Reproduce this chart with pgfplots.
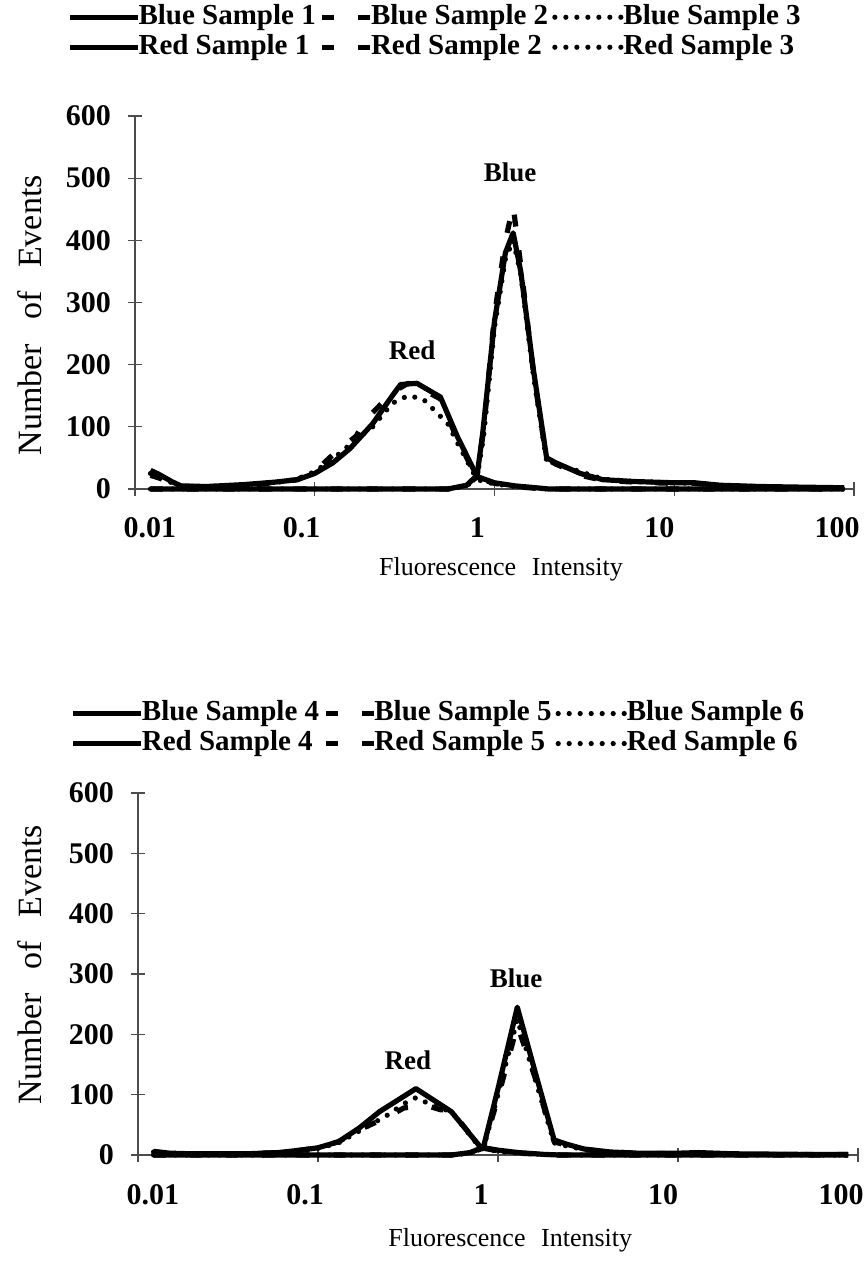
\documentclass[border=0pt]{standalone}
\usepackage{fontspec}
\setmainfont{Liberation Serif}
\usepackage{pgfplots}
\pgfplotsset{compat=1.18}

\tikzset{
  solidl/.style={solid},
  dashl/.style={dash pattern=on 6pt off 12pt},
  dotl/.style={dash pattern=on 0pt off 5.5pt, line cap=round},
  peak/.style={font=\fontsize{13.5}{13.5}\selectfont\bfseries},
  leg34/.style={}, leg24/.style={},
}
\pgfplotsset{
  leg34/.style={legend image code/.code={\draw[##1] (0pt,0pt) -- (34pt,0pt);}},
  leg24/.style={legend image code/.code={\draw[##1] (0pt,0pt) -- (24pt,0pt);}},
  fluo/.style={
    scale only axis,
    xmin=0.01, xmax=100, ymin=0, ymax=600,
    xtick={0.01,0.1,1,10,100},
    xticklabels={{\kern15pt 0.01},{0.1\kern13pt},{1\kern17pt},{10\kern15pt},{100\kern17pt}},
    xminorticks=false,
    ytick={0,100,...,600},
    axis lines*=left,
    axis line style={black!70, line width=0.6pt},
    tick style={black!70, line width=0.6pt},
    tick align=center, major tick length=7pt,
    tick label style={font=\fontsize{15}{15}\selectfont\bfseries},
    xticklabel style={anchor=base, yshift=-21pt},
    yticklabel style={xshift=-5pt},
    /pgf/number format/assume math mode=true,
    xlabel style={font=\fontsize{13}{13}\selectfont},
    ylabel style={font=\fontsize{17}{17}\selectfont},
    xlabel={Fluorescence\hspace{0.6em}Intensity},
    ylabel={Number\hspace{0.7em}of\hspace{0.7em}Events},
    clip=false,
    legend columns=3,
    legend cell align=left,
    legend style={draw=none, fill=none, inner sep=0pt,
      font=\fontsize{14.5}{15}\selectfont\bfseries,
      nodes={inner sep=1pt, text height=10pt, text depth=3pt}, row sep=0pt,
      /tikz/every odd column/.append style={column sep=-2pt},
      /tikz/every even column/.append style={column sep=1pt}},
    every axis plot/.append style={black, line width=2.6pt, line join=round},
  },
}

\begin{document}
\begin{tikzpicture}
\useasboundingbox (0,0) rectangle (431.5pt,636.5pt);

% ---- top panel: samples 1-3
\begin{semilogxaxis}[fluo,
  at={(67.5pt,392pt)}, anchor=south west,
  width=359.5pt, height=186.5pt,
  xlabel style={at={(axis description cs:0.509,-0.214)}, anchor=center},
  ylabel style={at={(axis description cs:-0.146,0.466)}, anchor=center},
  legend style={at={(-0.0946,1.306)}, anchor=north west},
]
\addplot[solidl, leg34] coordinates {
  (0.0122,0) (0.05,0) (0.2,0) (0.55,0) (0.7,6) (0.8,22) (0.86,90) (1.0,270)
  (1.15,380) (1.27,412) (1.4,350) (1.65,190) (1.95,50) (2.2,42) (3,25) (4,15)
  (6,12) (10,10) (13,10) (18,6) (30,4) (50,3) (88,2)};
\addlegendentry{Blue Sample 1}
\addplot[dashl, leg24] coordinates {
  (0.0122,0) (0.55,0) (0.7,5) (0.8,20) (0.87,95) (1.0,280) (1.15,400) (1.27,455)
  (1.4,360) (1.65,185) (1.95,48) (2.2,40) (3,22) (4,14) (6,11) (10,9) (13,9)
  (18,5) (30,3) (50,2) (88,2)};
\addlegendentry{Blue Sample 2}
\addplot[dotl, leg34] coordinates {
  (0.0122,0) (0.55,0) (0.7,5) (0.8,18) (0.87,85) (1.0,260) (1.15,370) (1.27,400)
  (1.4,345) (1.65,180) (1.95,45) (2.3,38) (3,28) (4,16) (6,12) (10,10) (13,9)
  (18,6) (30,4) (50,2) (88,2)};
\addlegendentry{Blue Sample 3}
\addplot[solidl, leg34] coordinates {
  (0.0122,30) (0.0135,24) (0.016,12) (0.018,5) (0.025,4) (0.04,7) (0.06,11)
  (0.08,15) (0.1,25) (0.126,42) (0.157,65) (0.21,105) (0.27,150) (0.30,168)
  (0.37,170) (0.50,148) (0.62,85) (0.8,20) (1.0,10) (1.3,5) (1.7,2) (2.0,0)
  (5,0) (88,0)};
\addlegendentry{Red Sample 1}
\addplot[dashl, leg24] coordinates {
  (0.0122,22) (0.0135,18) (0.016,10) (0.018,4) (0.025,3) (0.04,6) (0.06,10)
  (0.08,15) (0.1,28) (0.126,55) (0.17,85) (0.19,110) (0.27,155) (0.33,170)
  (0.37,165) (0.50,145) (0.62,80) (0.8,18) (1.0,9) (1.3,4) (1.7,1) (2.0,0)
  (88,0)};
\addlegendentry{Red Sample 2}
\addplot[dotl, leg34] coordinates {
  (0.0122,25) (0.0135,20) (0.016,10) (0.018,5) (0.025,4) (0.04,6) (0.06,10)
  (0.08,16) (0.1,28) (0.126,48) (0.17,80) (0.21,100) (0.27,138) (0.33,150)
  (0.40,145) (0.48,122) (0.55,105) (0.62,75) (0.8,15) (1.0,8) (1.3,4) (1.7,1)
  (2.0,0) (88,0)};
\addlegendentry{Red Sample 3}
\node[peak] at (axis cs:1.22,510) {Blue};
\node[peak] at (axis cs:0.348,223) {Red};
\end{semilogxaxis}

% ---- bottom panel: samples 4-6
\begin{semilogxaxis}[fluo,
  at={(69pt,59pt)}, anchor=south west,
  width=360pt, height=181pt,
  xlabel style={at={(axis description cs:0.517,-0.235)}, anchor=center},
  ylabel style={at={(axis description cs:-0.15,0.525)}, anchor=center},
  legend style={at={(-0.094,1.262)}, anchor=north west},
]
\addplot[solidl, leg34] coordinates {
  (0.0122,0) (0.55,0) (0.7,4) (0.83,13) (1.0,110) (1.28,245) (1.6,140)
  (2.05,25) (2.4,18) (3,10) (4.2,5) (6,3) (10,3) (13,4) (20,2) (50,1) (88,1)};
\addlegendentry{Blue Sample 4}
\addplot[dashl, leg24] coordinates {
  (0.0122,0) (0.55,0) (0.7,3) (0.83,12) (1.0,95) (1.28,215) (1.6,130)
  (2.05,22) (2.4,16) (3,9) (4.2,5) (6,3) (10,2) (13,3) (20,1) (50,1) (88,1)};
\addlegendentry{Blue Sample 5}
\addplot[dotl, leg34] coordinates {
  (0.0122,0) (0.55,0) (0.7,3) (0.83,11) (1.0,100) (1.28,225) (1.6,128)
  (2.05,20) (2.4,15) (3,9) (4.2,4) (6,2) (10,2) (13,3) (20,1) (50,1) (88,0)};
\addlegendentry{Blue Sample 6}
\addplot[solidl, leg34] coordinates {
  (0.0122,6) (0.015,3) (0.02,2) (0.04,2) (0.06,4) (0.08,8) (0.1,12) (0.13,22)
  (0.17,45) (0.22,72) (0.35,110) (0.55,72) (0.8,13) (1.0,8) (1.3,4) (1.8,1)
  (2.2,0) (88,0)};
\addlegendentry{Red Sample 4}
\addplot[dashl, leg24] coordinates {
  (0.0122,5) (0.015,3) (0.02,2) (0.04,2) (0.06,4) (0.08,8) (0.1,12) (0.13,22)
  (0.17,42) (0.24,62) (0.3,78) (0.4,82) (0.48,75) (0.55,74) (0.8,12) (1.0,7)
  (1.3,3) (1.8,1) (2.2,0) (88,0)};
\addlegendentry{Red Sample 5}
\addplot[dotl, leg34] coordinates {
  (0.0122,5) (0.015,3) (0.02,2) (0.04,2) (0.06,4) (0.08,7) (0.1,11) (0.13,20)
  (0.17,40) (0.24,65) (0.3,85) (0.35,95) (0.45,80) (0.55,72) (0.8,11) (1.0,6)
  (1.3,3) (1.8,1) (2.2,0) (88,0)};
\addlegendentry{Red Sample 6}
\node[peak] at (axis cs:1.26,293) {Blue};
\node[peak] at (axis cs:0.316,157) {Red};
\end{semilogxaxis}
\end{tikzpicture}
\end{document}
